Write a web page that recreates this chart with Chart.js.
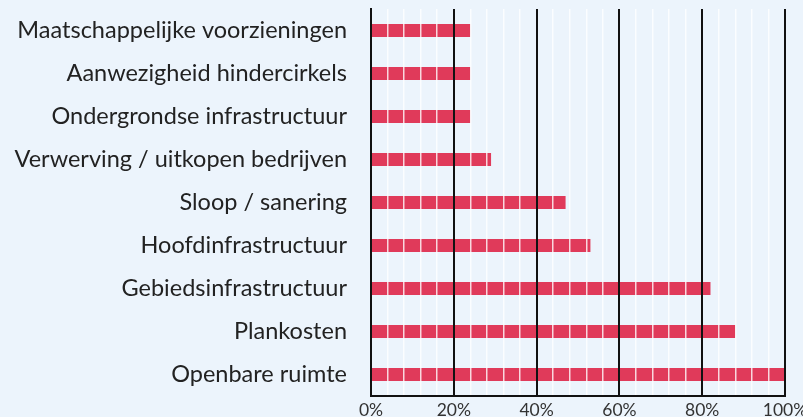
<!DOCTYPE html>
<html lang="nl">
<head>
  <meta charset="UTF-8" />
  <title>Kostenposten</title>
  <script src="https://cdn.jsdelivr.net/npm/chart.js"></script>
  <style>
    html, body { margin: 0; padding: 0; background: #ecf4fc; }
    #wrap { width: 803px; height: 417px; }
  </style>
</head>
<body>
  <div id="wrap"><canvas id="chart"></canvas></div>

  <script>
    const categories = [
      'Maatschappelijke voorzieningen',
      'Aanwezigheid hindercirkels',
      'Ondergrondse infrastructuur',
      'Verwerving / uitkopen bedrijven',
      'Sloop / sanering',
      'Hoofdinfrastructuur',
      'Gebiedsinfrastructuur',
      'Plankosten',
      'Openbare ruimte'
    ];
    const shares = [24, 24, 24, 29, 47, 53, 82, 88, 100];
    const majorTicks = [0, 20, 40, 60, 80, 100];

    const ctx = document.getElementById('chart').getContext('2d');
    new Chart(ctx, {
      type: 'bar',
      data: {
        labels: categories,
        datasets: [{
          data: shares,
          backgroundColor: '#e03a5a',
          borderWidth: 0,
          barPercentage: 0.6,
          categoryPercentage: 0.5
        }]
      },
      options: {
        indexAxis: 'y',
        responsive: true,
        maintainAspectRatio: false,
        animation: false,
        layout: { padding: { top: 9, right: 0, left: 0, bottom: 0 } },
        plugins: { legend: { display: false }, tooltip: { enabled: false } },
        scales: {
          x: {
            min: 0,
            max: 100,
            // keep the axis strip tight to the bottom like the original
            afterFit: s => { s.height = 21; s.paddingRight = 18; s.paddingLeft = 0; },
            ticks: {
              stepSize: 4,
              autoSkip: false,
              maxRotation: 0,
              padding: 6,
              color: '#333',
              font: { family: 'Lato', size: 17.5, lineHeight: 1 },
              callback: v => majorTicks.includes(v) ? v + '%' : ''
            },
            grid: {
              z: 1,
              drawTicks: false,
              color: c => majorTicks.includes(c.tick.value) ? '#111' : 'rgba(255,255,255,0.8)',
              lineWidth: c => majorTicks.includes(c.tick.value) ? 2 : 1.5
            },
            border: { display: true, color: '#111', width: 2, z: 2 }
          },
          y: {
            afterFit: s => { s.width = 371; s.paddingTop = 0; s.paddingBottom = 0; },
            ticks: {
              padding: 24,
              color: '#222',
              font: { family: 'Lato', size: 23.5 }
            },
            grid: { display: false, drawTicks: false },
            border: { display: true, color: '#111', width: 2, z: 2 }
          }
        }
      }
    });
  </script>
</body>
</html>
